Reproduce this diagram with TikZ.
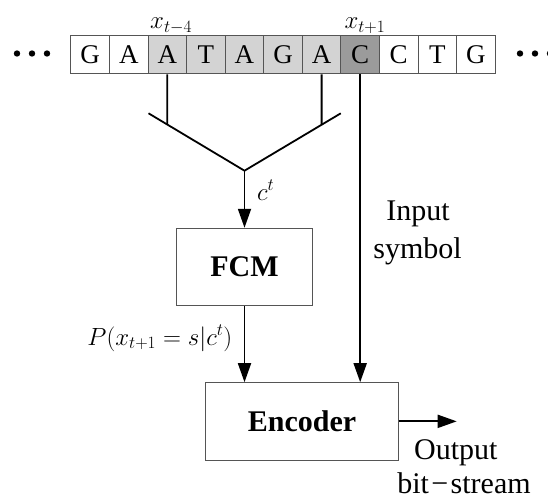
\documentclass[tikz,border=0pt]{standalone}
\usepackage{fontspec}
\setmainfont{Liberation Serif}
\usetikzlibrary{arrows.meta}
\definecolor{lightcell}{HTML}{D3D3D3}
\definecolor{darkcell}{HTML}{9B9B9B}
\definecolor{edgegray}{HTML}{555555}
\tikzset{
  cellbox/.style={draw=edgegray, line width=1pt, minimum width=38.57pt, minimum height=38pt, inner sep=0pt, font=\fontsize{27}{30}\selectfont},
  blockbox/.style={draw=edgegray, line width=1pt, inner sep=0pt, font=\fontsize{30}{36}\selectfont\bfseries},
  conn/.style={line width=1.8pt, black},
  arr/.style={conn, -{Triangle[length=19pt,width=13pt]}},
  mlabel/.style={inner sep=0pt, font=\fontsize{25.5}{30}\selectfont},
  tlabel/.style={inner sep=0pt, font=\fontsize{30}{36}\selectfont},
  dotmark/.style={fill=black, draw=none}
}
\begin{document}
\begin{tikzpicture}[x=1pt, y=-1pt]
\useasboundingbox (0,0) rectangle (548,500);
% dots
\fill[dotmark] (17,53.5) circle (3.2) (32,53.5) circle (3.2) (47,53.5) circle (3.2);
\fill[dotmark] (520,53.5) circle (3.2) (535,53.5) circle (3.2) (550,53.5) circle (3.2);
% cells
\foreach \i/\l/\c in {1/G/white,2/A/white,3/A/lightcell,4/T/lightcell,5/A/lightcell,6/G/lightcell,7/A/lightcell,8/C/darkcell,9/C/white,10/T/white,11/G/white}{
  \node[cellbox, fill=\c] (c\i) at ({70.9+38.57*(\i-0.5)},55) {\l};
}
% labels above
\node[mlabel, anchor=base west] (lx4) at (150,28.3) {$x_{t-4}$};
\node[mlabel, anchor=base west] (lx1) at (344.3,29) {$x_{t+1}$};
% V shape
\coordinate (vl) at (148.5,113.3);
\coordinate (vv) at (244.5,170.7);
\coordinate (vr) at (340.8,113.3);
\coordinate (j3) at (167.3,124.5);
\coordinate (j7) at (321.6,124.5);
\draw[conn] (vl) -- (vv) -- (vr);
\draw[conn] (c3.south) -- (j3);
\draw[conn] (c7.south) -- (j7);
% blocks
\node[blockbox, minimum width=135.6pt, minimum height=77.4pt] (fcm) at (244.5,267) {FCM};
\node[blockbox, minimum width=192.6pt, minimum height=77.3pt] (enc) at (302,421.35) {Encoder};
% arrows
\draw[arr] (vv) -- (fcm.north);
\draw[arr] (fcm.south) -- (fcm.south |- enc.north);
\draw[arr] (c8.south) -- (c8.south |- enc.north);
\coordinate (out) at (456.7,421.35);
\draw[arr] (enc.east) -- (out);
% labels
\node[mlabel, anchor=base west] (lct) at (256.9,200) {$c^t$};
\node[mlabel, anchor=base east] (lp) at (232.4,345) {$P(x_{t+1}=s|c^t)$};
\node[tlabel, anchor=base] (lin1) at (418,220) {Input};
\node[tlabel, anchor=base] (lin2) at (417.5,258.3) {symbol};
\node[tlabel, anchor=base] (lout1) at (455.8,459) {Output};
\node[tlabel, anchor=base] (lout2) at (464,493) {bit\hspace{0.08em}−\hspace{0.08em}stream};
\end{tikzpicture}
\end{document}
